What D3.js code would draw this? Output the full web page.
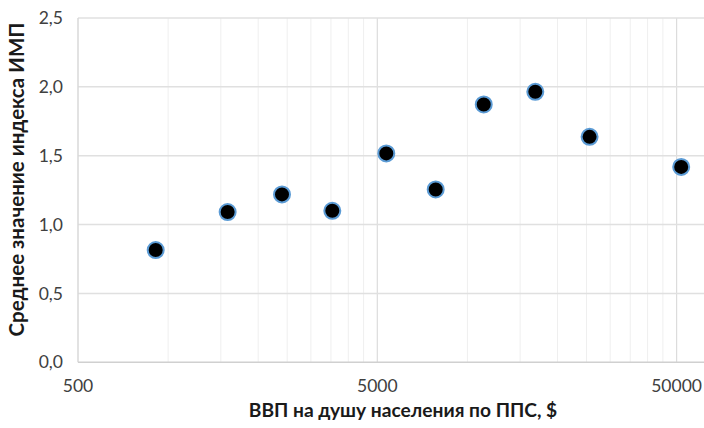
<!DOCTYPE html>
<html><head><meta charset="utf-8">
<script src="https://cdn.jsdelivr.net/npm/d3@7"></script>
<style>body{margin:0;background:#fff}svg{display:block}text{font-family:Lato,"Open Sans",sans-serif}</style>
</head><body>
<svg id="c" width="704" height="428"></svg>
<script>
const gdp = [909, 1581, 2402, 3537, 5358, 7836, 11340, 16860, 25600, 51800];
const imp = [0.815, 1.091, 1.219, 1.100, 1.517, 1.255, 1.872, 1.964, 1.637, 1.419];
const xTicks = [500, 5000, 50000];
const yTicks = [0, 0.5, 1.0, 1.5, 2.0, 2.5];
const xTitle = "ВВП на душу населения по ППС, $";
const yTitle = "Среднее значение индекса ИМП";

const svg = d3.select("#c");
const L = 78, R = 704, T = 18, B = 362.3;
const decade = 299.3;
const xMax = 500 * Math.pow(10, (R - L) / decade);
const x = d3.scaleLog().domain([500, xMax]).range([L, R]);
const y = d3.scaleLinear().domain([0, 2.5]).range([B, T]);

// minor gridlines
const minor = [];
[500, 5000, 50000].forEach(b => { for (let k = 2; k <= 9; k++) { const v = b * k; if (v < xMax) minor.push(v); } });
svg.append("g").selectAll("line").data(minor).join("line")
  .attr("x1", d => x(d)).attr("x2", d => x(d)).attr("y1", T).attr("y2", B)
  .attr("stroke", "#efefef").attr("stroke-width", 1);
// major vertical
svg.append("g").selectAll("line").data(xTicks.slice(1)).join("line")
  .attr("x1", d => x(d)).attr("x2", d => x(d)).attr("y1", T).attr("y2", B)
  .attr("stroke", "#dcdcdc").attr("stroke-width", 1.2);
// horizontal
svg.append("g").selectAll("line").data(yTicks.slice(1)).join("line")
  .attr("x1", L).attr("x2", R).attr("y1", d => y(d)).attr("y2", d => y(d))
  .attr("stroke", "#e0e0e0").attr("stroke-width", 1.5);
// axis lines
svg.append("line").attr("x1", L).attr("x2", L).attr("y1", T).attr("y2", B).attr("stroke", "#d9d9d9").attr("stroke-width", 1.5);
svg.append("line").attr("x1", L).attr("x2", R).attr("y1", B).attr("y2", B).attr("stroke", "#d0d0d0").attr("stroke-width", 1.5);

// tick labels
const fmt = d3.format(".1f");
svg.append("g").selectAll("text").data(yTicks).join("text")
  .attr("x", 63).attr("y", d => y(d)).attr("dy", "0.35em").attr("text-anchor", "end")
  .attr("font-size", 17.5).attr("fill", "#404040").text(d => fmt(d).replace(".", ","));
svg.append("g").selectAll("text").data(xTicks).join("text")
  .attr("x", d => x(d)).attr("y", 392).attr("text-anchor", "middle")
  .attr("font-size", 17.5).attr("fill", "#404040").text(d => d);

// titles
svg.append("text").attr("x", 403).attr("y", 417).attr("text-anchor", "middle")
  .attr("font-size", 19.2).attr("font-weight", "bold").attr("fill", "#1a1a1a").text(xTitle);
svg.append("text").attr("transform", `translate(24,${(T + 341) / 2}) rotate(-90)`).attr("text-anchor", "middle")
  .attr("font-size", 20.5).attr("font-weight", "bold").attr("fill", "#1a1a1a").text(yTitle);

// points
svg.append("g").selectAll("circle").data(gdp.map((g, i) => [g, imp[i]])).join("circle")
  .attr("cx", d => x(d[0])).attr("cy", d => y(d[1])).attr("r", 8)
  .attr("fill", "#000").attr("stroke", "#5b9bd5").attr("stroke-width", 2);
</script>
</body></html>
